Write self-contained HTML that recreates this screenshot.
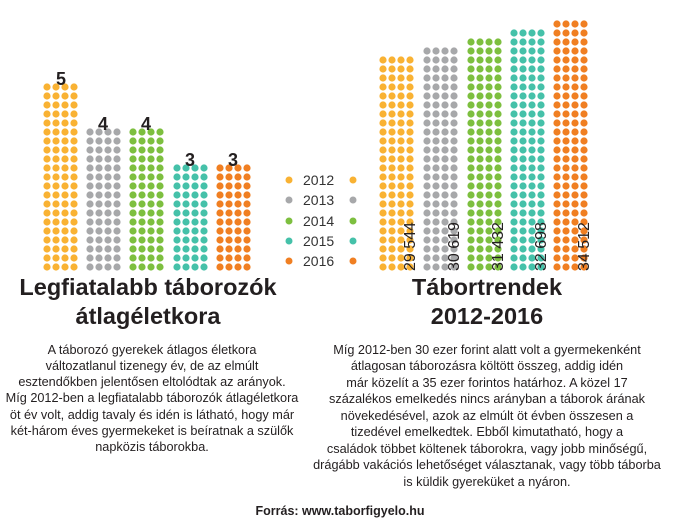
<!DOCTYPE html>
<html><head><meta charset="utf-8"><style>
html,body{margin:0;padding:0;background:#fff}
svg{display:block}
text{font-family:"Liberation Sans",sans-serif;fill:#231f20}
.p{font-size:12.7px;text-anchor:middle}
.t{font-size:23.5px;font-weight:bold;text-anchor:middle}
.n{font-size:18px;font-weight:bold;text-anchor:middle}
.v{font-size:16px}
.l{font-size:14px;fill:#333}
</style></head><body>
<svg width="680" height="529" viewBox="0 0 680 529">
<defs>
<pattern id="y1" patternUnits="userSpaceOnUse" x="42.5" y="1.5" width="9" height="9"><circle cx="4.5" cy="4.5" r="3.6" fill="#f9b233"/></pattern>
<pattern id="g1" patternUnits="userSpaceOnUse" x="85.5" y="1.5" width="9" height="9"><circle cx="4.5" cy="4.5" r="3.6" fill="#a7a8aa"/></pattern>
<pattern id="n1" patternUnits="userSpaceOnUse" x="128.5" y="1.5" width="9" height="9"><circle cx="4.5" cy="4.5" r="3.6" fill="#7dbf3f"/></pattern>
<pattern id="t1" patternUnits="userSpaceOnUse" x="172.5" y="1.5" width="9" height="9"><circle cx="4.5" cy="4.5" r="3.6" fill="#45c1a9"/></pattern>
<pattern id="o1" patternUnits="userSpaceOnUse" x="215.5" y="1.5" width="9" height="9"><circle cx="4.5" cy="4.5" r="3.6" fill="#f07f22"/></pattern>
<pattern id="y2" patternUnits="userSpaceOnUse" x="378.5" y="1.5" width="9" height="9"><circle cx="4.5" cy="4.5" r="3.6" fill="#f9b233"/></pattern>
<pattern id="g2" patternUnits="userSpaceOnUse" x="422.5" y="1.5" width="9" height="9"><circle cx="4.5" cy="4.5" r="3.6" fill="#a7a8aa"/></pattern>
<pattern id="n2" patternUnits="userSpaceOnUse" x="466.5" y="1.5" width="9" height="9"><circle cx="4.5" cy="4.5" r="3.6" fill="#7dbf3f"/></pattern>
<pattern id="t2" patternUnits="userSpaceOnUse" x="509.5" y="1.5" width="9" height="9"><circle cx="4.5" cy="4.5" r="3.6" fill="#45c1a9"/></pattern>
<pattern id="o2" patternUnits="userSpaceOnUse" x="552.5" y="1.5" width="9" height="9"><circle cx="4.5" cy="4.5" r="3.6" fill="#f07f22"/></pattern>
</defs>
<rect x="42.5" y="82.5" width="36" height="189" fill="url(#y1)"/>
<rect x="85.5" y="127.5" width="36" height="144" fill="url(#g1)"/>
<rect x="128.5" y="127.5" width="36" height="144" fill="url(#n1)"/>
<rect x="172.5" y="163.5" width="36" height="108" fill="url(#t1)"/>
<rect x="215.5" y="163.5" width="36" height="108" fill="url(#o1)"/>
<text class="n" x="61" y="85">5</text>
<text class="n" x="103" y="130">4</text>
<text class="n" x="146" y="130">4</text>
<text class="n" x="190" y="166">3</text>
<text class="n" x="233" y="166">3</text>
<rect x="378.5" y="55.5" width="36" height="216" fill="url(#y2)"/>
<rect x="422.5" y="46.5" width="36" height="225" fill="url(#g2)"/>
<rect x="466.5" y="37.5" width="36" height="234" fill="url(#n2)"/>
<rect x="509.5" y="28.5" width="36" height="243" fill="url(#t2)"/>
<rect x="552.5" y="19.5" width="36" height="252" fill="url(#o2)"/>
<text class="v" transform="translate(415,271) rotate(-90)">29 544</text>
<text class="v" transform="translate(459,271) rotate(-90)">30 619</text>
<text class="v" transform="translate(503,271) rotate(-90)">31 432</text>
<text class="v" transform="translate(546,271) rotate(-90)">32 698</text>
<text class="v" transform="translate(589,271) rotate(-90)">34 512</text>
<g>
<circle cx="289" cy="180" r="3.5" fill="#f9b233"/><circle cx="353" cy="180" r="3.5" fill="#f9b233"/><text class="l" x="303" y="185">2012</text>
<circle cx="289" cy="200" r="3.5" fill="#a7a8aa"/><circle cx="353" cy="200" r="3.5" fill="#a7a8aa"/><text class="l" x="303" y="205">2013</text>
<circle cx="289" cy="221" r="3.5" fill="#7dbf3f"/><circle cx="353" cy="221" r="3.5" fill="#7dbf3f"/><text class="l" x="303" y="226">2014</text>
<circle cx="289" cy="241" r="3.5" fill="#45c1a9"/><circle cx="353" cy="241" r="3.5" fill="#45c1a9"/><text class="l" x="303" y="246">2015</text>
<circle cx="289" cy="261" r="3.5" fill="#f07f22"/><circle cx="353" cy="261" r="3.5" fill="#f07f22"/><text class="l" x="303" y="266">2016</text>
</g>
<text class="t" x="148" y="295">Legfiatalabb táborozók</text>
<text class="t" x="148" y="324">átlagéletkora</text>
<text class="t" x="487" y="295">Tábortrendek</text>
<text class="t" x="487" y="324">2012-2016</text>
<text class="p" x="152" y="354">A táborozó gyerekek átlagos életkora</text>
<text class="p" x="152" y="370">változatlanul tizenegy év, de az elmúlt</text>
<text class="p" x="152" y="386">esztendőkben jelentősen eltolódtak az arányok.</text>
<text class="p" x="152" y="402">Míg 2012-ben a legfiatalabb táborozók átlagéletkora</text>
<text class="p" x="152" y="419">öt év volt, addig tavaly és idén is látható, hogy már</text>
<text class="p" x="152" y="435">két-három éves gyermekeket is beíratnak a szülők</text>
<text class="p" x="152" y="451">napközis táborokba.</text>
<text class="p" x="487" y="354">Míg 2012-ben 30 ezer forint alatt volt a gyermekenként</text>
<text class="p" x="487" y="370">átlagosan táborozásra költött összeg, addig idén</text>
<text class="p" x="487" y="387">már közelít a 35 ezer forintos határhoz. A közel 17</text>
<text class="p" x="487" y="403">százalékos emelkedés nincs arányban a táborok árának</text>
<text class="p" x="487" y="420">növekedésével, azok az elmúlt öt évben összesen a</text>
<text class="p" x="487" y="436">tizedével emelkedtek. Ebből kimutatható, hogy a</text>
<text class="p" x="487" y="453">családok többet költenek táborokra, vagy jobb minőségű,</text>
<text class="p" x="487" y="469">drágább vakációs lehetőséget választanak, vagy több táborba</text>
<text class="p" x="487" y="486">is küldik gyereküket a nyáron.</text>
<text x="340" y="515" style="font-size:12.5px;font-weight:bold;text-anchor:middle">Forrás: www.taborfigyelo.hu</text>
</svg>
</body></html>
